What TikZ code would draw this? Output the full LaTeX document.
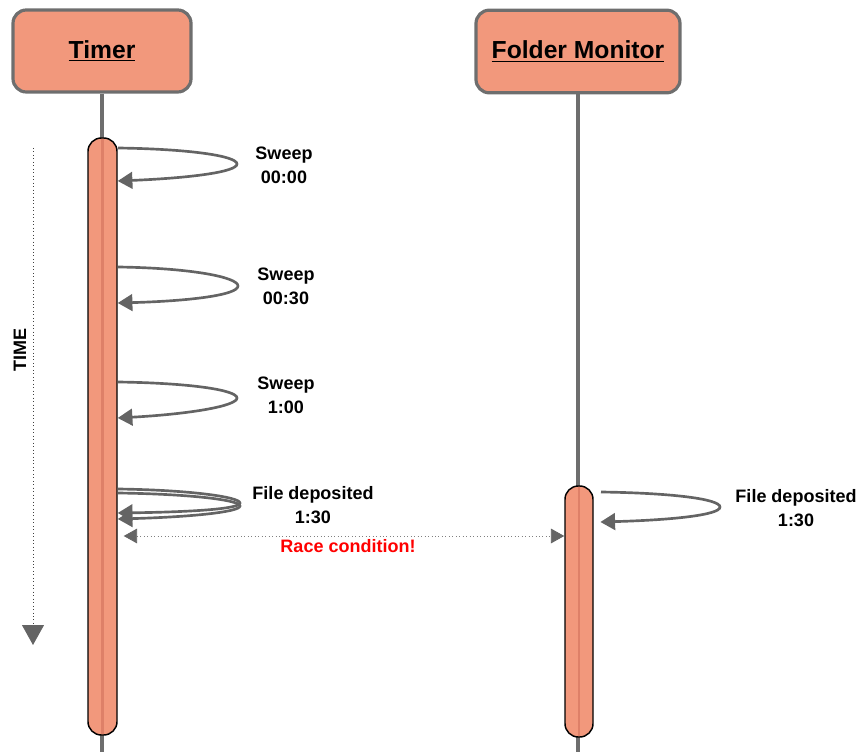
\documentclass[tikz,border=0pt]{standalone}
\usepackage{fontspec}
\setmainfont{Liberation Sans}
\usetikzlibrary{arrows.meta}
\definecolor{salmon}{RGB}{242,152,124}
\definecolor{salmondark}{RGB}{222,128,104}
\definecolor{edgegray}{RGB}{110,110,110}
\definecolor{loopgray}{RGB}{100,100,100}
\tikzset{
  titlebox/.style={draw=edgegray, line width=2.4pt, fill=salmon, rounded corners=10pt,
    font=\bfseries\fontsize{18.5}{22}\selectfont, inner sep=0pt},
  actbar/.style={draw=black, line width=1.1pt, fill=salmon, rounded corners=10pt, inner sep=0pt},
  lifeline/.style={draw=edgegray, line width=2.5pt},
  stripe/.style={draw=salmondark, line width=2pt, shorten >=1.5pt, shorten <=1.5pt},
  selfloop/.style={draw=loopgray, line width=2pt, -{Triangle[length=11pt,width=12.5pt]}},
  lbl/.style={font=\bfseries\fontsize{13.5}{18}\selectfont, align=center, inner sep=0pt},
  racearrow/.style={draw=gray, line width=0.6pt, dotted,
    {Triangle[length=10pt,width=11pt,fill=loopgray,color=loopgray]}-{Triangle[length=10pt,width=11pt,fill=loopgray,color=loopgray]}},
  timearrow/.style={draw=darkgray, line width=0.6pt, dotted, -{Triangle[length=15pt,width=16.5pt, fill=loopgray,color=loopgray]}},
}
\begin{document}
\begin{tikzpicture}[x=0.75pt,y=-0.75pt]
\useasboundingbox (0,0) rectangle (857,752);
% title boxes
\node[titlebox, minimum width=133.5pt, minimum height=61.5pt] (tim) at (102,51) {\underline{Timer}};
\node[titlebox, minimum width=153pt, minimum height=62pt] (fol) at (578,51.5) {\underline{Folder Monitor}};
% lifeline ends
\coordinate (timend) at (102,752);
\coordinate (folend) at (578,752);
\draw[lifeline] (tim.south) -- (timend);
\draw[lifeline] (fol.south) -- (folend);
% activation bars
\node[actbar, minimum width=21.75pt, minimum height=447.75pt] (tbar) at (102.5,436.5) {};
\node[actbar, minimum width=21pt, minimum height=188.25pt] (fbar) at (579,611.5) {};
\draw[stripe] (tbar.north) -- (tbar.south);
\draw[stripe] (fbar.north) -- (fbar.south);
% self loops on Timer
\draw[selfloop] (118,148) .. controls (190,149) and (237,156) .. (237,164)
  .. controls (237,172) and (190,178) .. (tbar.east |- 0,181);
\node[lbl] (s1) at (284,165) {Sweep\\00:00};
\draw[selfloop] (118,267) .. controls (190,268) and (238,277) .. (238,286)
  .. controls (238,295) and (190,301) .. (tbar.east |- 0,303);
\node[lbl] (s2) at (286,286) {Sweep\\00:30};
\draw[selfloop] (118,382) .. controls (190,383) and (237,390) .. (237,398)
  .. controls (237,406) and (190,414) .. (tbar.east |- 0,418);
\node[lbl] (s3) at (286,395) {Sweep\\1:00};
\draw[selfloop] (118,489) .. controls (190,490) and (240,497) .. (240,503)
  .. controls (240,509) and (190,512) .. (tbar.east |- 0,513);
\draw[selfloop] (118,493) .. controls (190,494) and (240,500) .. (240,506)
  .. controls (240,512) and (190,517) .. (tbar.east |- 0,519);
\node[lbl] (s4) at (313,505) {File deposited\\1:30};
% self loop on Folder Monitor
\draw[selfloop] (601,492) .. controls (672,493) and (720,499) .. (720,507)
  .. controls (720,515) and (672,520) .. ([xshift=5pt]fbar.east |- 0,522);
\node[lbl] (s5) at (796,508) {File deposited\\1:30};
% race condition
\draw[racearrow] ([xshift=4.5pt]tbar.east |- 0,536) -- (fbar.west |- 0,536);
\node[lbl, text=red] (race) at (348,546) {Race condition!};
% time axis
\coordinate (t0) at (33,148);
\coordinate (t1) at (33,645);
\draw[timearrow] (t0) -- (t1);
\node[lbl, rotate=90] (time) at (20,350) {TIME};
\end{tikzpicture}
\end{document}
